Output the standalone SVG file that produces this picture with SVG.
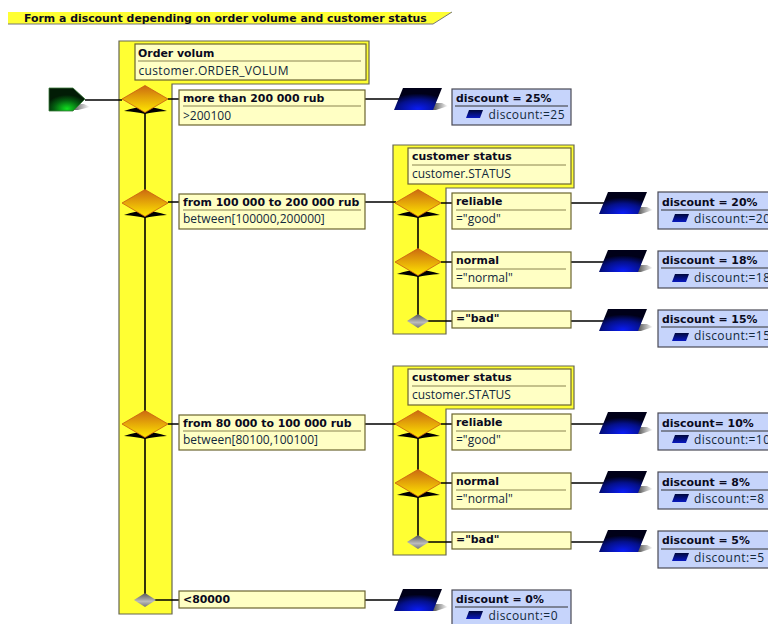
<svg xmlns="http://www.w3.org/2000/svg" xmlns:xlink="http://www.w3.org/1999/xlink" width="768" height="624" viewBox="0 0 768 624">
<style>
text{font-family:"DejaVu Sans","Liberation Sans",sans-serif;fill:#0a0a20}
.b{font-size:10.900px;font-weight:bold}
.n{font-family:"Open Sans","DejaVu Sans",sans-serif;font-size:12px;fill:#12283c}
.grp{fill:#ffff33;stroke:#666650;stroke-width:1.2}
.hdr{fill:#ffffc4;stroke:#6b6530;stroke-width:1.2}
.sep{stroke:#8a8450;stroke-width:1;fill:none}
.res{fill:#c6d4fb;stroke:#4a4a55;stroke-width:1.2}
.rsep{stroke:#333;stroke-width:1;fill:none}
.con{stroke:#000;stroke-width:1.6;fill:none}
</style>
<defs>
<linearGradient id="dia" x1="0" y1="0" x2="0" y2="1"><stop offset="0" stop-color="#cc6a10"/><stop offset="1" stop-color="#ffe800"/></linearGradient>
<linearGradient id="gry" x1="0" y1="0" x2="0" y2="1"><stop offset="0" stop-color="#555"/><stop offset="0.6" stop-color="#bbb"/><stop offset="1" stop-color="#777"/></linearGradient>
<radialGradient id="blu" cx="0.5" cy="0.95" r="0.7"><stop offset="0" stop-color="#0a1cf5"/><stop offset="0.6" stop-color="#04108a"/><stop offset="1" stop-color="#000018"/></radialGradient>
<radialGradient id="grn" cx="0.5" cy="0.9" r="0.6"><stop offset="0" stop-color="#10e020"/><stop offset="0.6" stop-color="#046010"/><stop offset="1" stop-color="#021c06"/></radialGradient>
<linearGradient id="sh" x1="0" y1="0" x2="1" y2="0"><stop offset="0" stop-color="#000"/><stop offset="1" stop-color="#000" stop-opacity="0"/></linearGradient>
<linearGradient id="mb" x1="0" y1="0" x2="0" y2="1"><stop offset="0" stop-color="#00083a"/><stop offset="1" stop-color="#0818c0"/></linearGradient>
<g id="dm"><path d="M-21,12 Q-10,8 0,8 Q10,8 22,12 Q8,13 0,15 Q-8,13 -21,12Z" fill="#000"/><path d="M0,-13.500 L23,0 L0,13.500 L-23,0Z" fill="url(#dia)" stroke="#c85a10" stroke-width="0.8"/></g>
<g id="gd"><path d="M0,-7 L11,0 L0,7 L-11,0Z" fill="url(#gry)"/></g>
<g id="act"><path d="M36,15 L48,15 L54,18 L42,22 L36,22Z" fill="url(#sh)" opacity="0.8"/><path d="M9,0 L48,0 L39,22 L0,22Z" fill="url(#blu)"/></g>
<path id="mini" d="M3,0 L17,0 L14,8 L0,8Z" fill="url(#mb)"/>
</defs>
<g id="title"><path d="M8,12 L452,12 L433,24 L8,24Z" fill="#ffff33"/><path d="M8,24 L433,24 L452,12" fill="none" stroke="#777" stroke-width="1"/><text class="b" x="24" y="21.500">Form a discount depending on order volume and customer status</text></g>

<g id="group-order"><path class="grp" d="M119,41 H369 V84 H172 V614 H119Z"/></g>
<g id="group-status-1"><path class="grp" d="M393,145 H574 V188 H446 V334 H393Z"/></g>
<g id="group-status-2"><path class="grp" d="M393,366 H574 V409 H446 V555 H393Z"/></g>

<g id="connectors">
<path class="con" d="M85,100 H122"/><path class="con" d="M145,100 V600"/>
<path class="con" d="M168,99 H179M365,99 H400"/>
<path class="con" d="M168,202 H179M365,202 H396"/>
<path class="con" d="M168,424 H179M365,424 H396"/>
<path class="con" d="M150,600 H179M365,600 H400"/>
<path class="con" d="M418,203 V321"/><path class="con" d="M418,424 V542"/>
<path class="con" d="M441,203 H452M571,203 H605"/>
<path class="con" d="M441,262 H452M571,262 H605"/>
<path class="con" d="M425,321 H452M571,321 H605"/>
<path class="con" d="M441,424 H452M571,424 H605"/>
<path class="con" d="M441,483 H452M571,483 H605"/>
<path class="con" d="M425,542 H452M571,542 H605"/>
</g>

<g id="start"><path d="M66,104 H84 L90,107 L78,110 H66Z" fill="url(#sh)" opacity="0.9"/><path d="M49,88 H73 L85,99 L73,111 H49Z" fill="url(#grn)" stroke="#3a7a3a" stroke-width="0.8"/></g>

<g id="hdr-order"><rect class="hdr" x="135" y="44" width="231" height="36"/><path class="sep" d="M138,61 H361"/><text class="b" x="138" y="56.500">Order volum</text><text class="n" x="138.500" y="74.500" textLength="150">customer.ORDER_VOLUM</text></g>
<g id="dec-1"><use xlink:href="#dm" href="#dm" x="145" y="99"/></g>
<g id="dec-2"><use xlink:href="#dm" href="#dm" x="145" y="203"/></g>
<g id="dec-3"><use xlink:href="#dm" href="#dm" x="145" y="424"/></g>
<g id="dec-4"><use xlink:href="#gd" href="#gd" x="145" y="600"/></g>

<g id="case-1"><rect class="hdr" x="179" y="90" width="186" height="35"/><path class="sep" d="M183,106 H361"/><text class="b" x="183" y="101.500">more than 200 000 rub</text><text class="n" x="183" y="119.500">&gt;200100</text></g>
<g id="case-2"><rect class="hdr" x="179" y="194" width="186" height="35"/><path class="sep" d="M183,210 H361"/><text class="b" x="183" y="205.500">from 100 000 to 200 000 rub</text><text class="n" x="183" y="223">between[100000,200000]</text></g>
<g id="case-3"><rect class="hdr" x="179" y="415" width="186" height="35"/><path class="sep" d="M183,431 H361"/><text class="b" x="183" y="426.500">from 80 000 to 100 000 rub</text><text class="n" x="183" y="444">between[80100,100100]</text></g>
<g id="case-4"><rect class="hdr" x="179" y="591" width="186" height="17"/><text class="b" x="183" y="602.500">&lt;80000</text></g>

<g id="hdr-status-1"><rect class="hdr" x="408" y="148" width="163" height="36"/><path class="sep" d="M412,165 H566"/><text class="b" x="412" y="160">customer status</text><text class="n" x="412" y="178">customer.STATUS</text></g>
<g id="dec-s1"><use xlink:href="#dm" href="#dm" x="418" y="203"/></g>
<g id="dec-s2"><use xlink:href="#dm" href="#dm" x="418" y="262"/></g>
<g id="dec-s3"><use xlink:href="#gd" href="#gd" x="418" y="321"/></g>
<g id="case-s1"><rect class="hdr" x="452" y="193" width="119" height="36"/><path class="sep" d="M456,210 H566"/><text class="b" x="456" y="205">reliable</text><text class="n" x="456" y="223">="good"</text></g>
<g id="case-s2"><rect class="hdr" x="452" y="252" width="119" height="36"/><path class="sep" d="M456,269 H566"/><text class="b" x="456" y="264">normal</text><text class="n" x="456" y="282">="normal"</text></g>
<g id="case-s3"><rect class="hdr" x="452" y="311" width="119" height="17"/><text class="b" x="456" y="322">="bad"</text></g>

<g id="hdr-status-2"><rect class="hdr" x="408" y="369" width="163" height="36"/><path class="sep" d="M412,386 H566"/><text class="b" x="412" y="381">customer status</text><text class="n" x="412" y="399">customer.STATUS</text></g>
<g id="dec-t1"><use xlink:href="#dm" href="#dm" x="418" y="424"/></g>
<g id="dec-t2"><use xlink:href="#dm" href="#dm" x="418" y="483"/></g>
<g id="dec-t3"><use xlink:href="#gd" href="#gd" x="418" y="542"/></g>
<g id="case-t1"><rect class="hdr" x="452" y="414" width="119" height="36"/><path class="sep" d="M456,431 H566"/><text class="b" x="456" y="426">reliable</text><text class="n" x="456" y="444">="good"</text></g>
<g id="case-t2"><rect class="hdr" x="452" y="473" width="119" height="36"/><path class="sep" d="M456,490 H566"/><text class="b" x="456" y="485">normal</text><text class="n" x="456" y="503">="normal"</text></g>
<g id="case-t3"><rect class="hdr" x="452" y="532" width="119" height="17"/><text class="b" x="456" y="543">="bad"</text></g>

<g id="act-1"><use xlink:href="#act" href="#act" x="394" y="88"/></g>
<g id="act-2"><use xlink:href="#act" href="#act" x="599" y="192"/></g>
<g id="act-3"><use xlink:href="#act" href="#act" x="599" y="250"/></g>
<g id="act-4"><use xlink:href="#act" href="#act" x="599" y="309"/></g>
<g id="act-5"><use xlink:href="#act" href="#act" x="599" y="412"/></g>
<g id="act-6"><use xlink:href="#act" href="#act" x="599" y="471"/></g>
<g id="act-7"><use xlink:href="#act" href="#act" x="599" y="530"/></g>
<g id="act-8"><use xlink:href="#act" href="#act" x="394" y="589"/></g>

<g id="res-1"><rect class="res" x="452" y="89" width="119" height="36"/><path class="rsep" d="M455,106 H568"/><text class="b" x="456" y="101.500">discount = 25%</text><use xlink:href="#mini" href="#mini" x="466" y="110"/><text class="n" x="488.500" y="119" textLength="76">discount:=25</text></g>
<g id="res-2"><rect class="res" x="658" y="192" width="120" height="37"/><path class="rsep" d="M661,210 H775"/><text class="b" x="662" y="205.500">discount = 20%</text><use xlink:href="#mini" href="#mini" x="672" y="214"/><text class="n" x="694" y="223" textLength="76">discount:=20</text></g>
<g id="res-3"><rect class="res" x="658" y="251" width="120" height="37"/><path class="rsep" d="M661,268 H775"/><text class="b" x="662" y="264">discount = 18%</text><use xlink:href="#mini" href="#mini" x="672" y="274"/><text class="n" x="694" y="282" textLength="76">discount:=18</text></g>
<g id="res-4"><rect class="res" x="658" y="310" width="120" height="37"/><path class="rsep" d="M661,327 H775"/><text class="b" x="662" y="323">discount = 15%</text><use xlink:href="#mini" href="#mini" x="672" y="333"/><text class="n" x="694" y="340" textLength="76">discount:=15</text></g>
<g id="res-5"><rect class="res" x="658" y="413" width="120" height="37"/><path class="rsep" d="M661,431 H775"/><text class="b" x="662" y="426.500">discount= 10%</text><use xlink:href="#mini" href="#mini" x="672" y="435"/><text class="n" x="694" y="444" textLength="76">discount:=10</text></g>
<g id="res-6"><rect class="res" x="658" y="472" width="120" height="37"/><path class="rsep" d="M661,490 H775"/><text class="b" x="662" y="485.500">discount = 8%</text><use xlink:href="#mini" href="#mini" x="672" y="494"/><text class="n" x="694" y="503" textLength="70">discount:=8</text></g>
<g id="res-7"><rect class="res" x="658" y="531" width="120" height="37"/><path class="rsep" d="M661,549 H775"/><text class="b" x="662" y="544">discount = 5%</text><use xlink:href="#mini" href="#mini" x="672" y="553"/><text class="n" x="694" y="562" textLength="70">discount:=5</text></g>
<g id="res-8"><rect class="res" x="452" y="590" width="119" height="40"/><path class="rsep" d="M455,607 H568"/><text class="b" x="456" y="602.500">discount = 0%</text><use xlink:href="#mini" href="#mini" x="466" y="611"/><text class="n" x="488.500" y="620" textLength="69">discount:=0</text></g>
</svg>
